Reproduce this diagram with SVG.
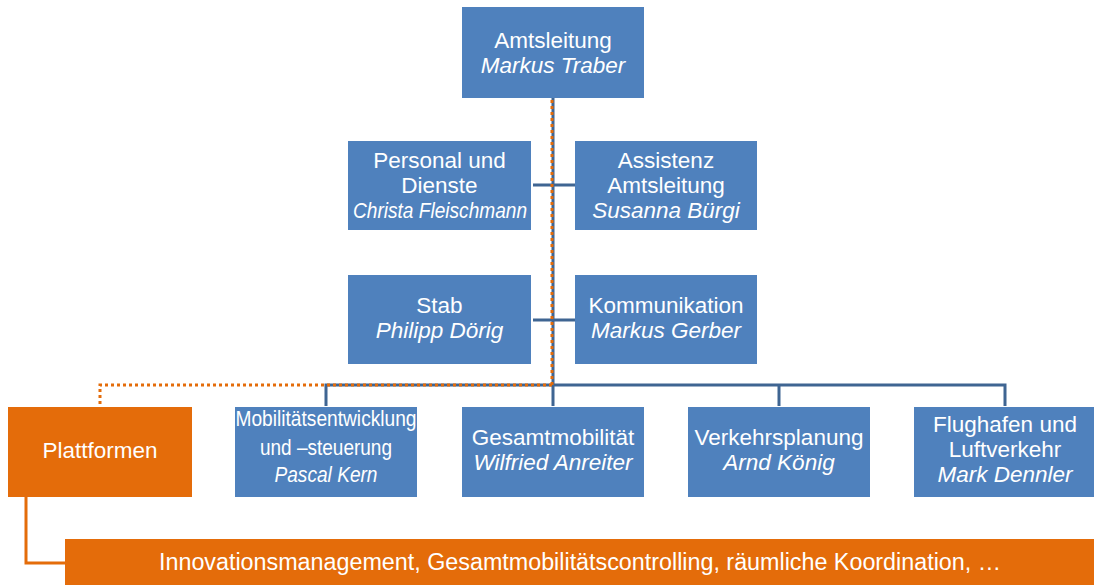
<svg xmlns="http://www.w3.org/2000/svg" width="1094" height="585" viewBox="0 0 1094 585">
<style>
.box{fill:#4F81BD;}
.org{fill:#E46C0A;}
.t{font-family:"Liberation Sans",Arial,sans-serif;font-size:22.5px;fill:#ffffff;text-anchor:middle;}
.i{font-style:italic;}
.s{font-size:22px;}
.ln{stroke:#3F6592;stroke-width:3;fill:none;}
.dot{stroke:#E46C0A;stroke-width:3;fill:none;stroke-dasharray:3 3;}
.ol{stroke:#E46C0A;stroke-width:3;fill:none;}
</style>
<rect width="1094" height="585" fill="#ffffff"/>
<g id="connectors">
<line class="ln" x1="553" y1="98" x2="553" y2="406"/>
<line class="ln" x1="533" y1="185" x2="575" y2="185"/>
<line class="ln" x1="533" y1="320" x2="575" y2="320"/>
<polyline class="ln" points="326,406 326,385 1005,385 1005,406"/>
<line class="ln" x1="779" y1="385" x2="779" y2="406"/>
<line class="dot" x1="552" y1="100" x2="552" y2="385"/>
<polyline class="dot" points="552,385 100,385 100,405"/>
<polyline class="ol" points="26,497 26,563 66,563"/>
</g>
<g id="amtsleitung">
<rect class="box" x="462" y="7" width="182" height="91"/>
<text class="t" x="553" y="48">Amtsleitung</text>
<text class="t i" x="553" y="72.5">Markus Traber</text>
</g>
<g id="personal">
<rect class="box" x="348" y="141" width="183" height="89"/>
<text class="t" x="439.5" y="168">Personal und</text>
<text class="t" x="439.5" y="193">Dienste</text>
<text class="t i s" x="440" y="218" textLength="174" lengthAdjust="spacingAndGlyphs">Christa Fleischmann</text>
</g>
<g id="assistenz">
<rect class="box" x="575" y="141" width="182" height="89"/>
<text class="t" x="666" y="168">Assistenz</text>
<text class="t" x="666" y="193">Amtsleitung</text>
<text class="t i" x="666" y="218">Susanna Bürgi</text>
</g>
<g id="stab">
<rect class="box" x="348" y="275" width="183" height="89"/>
<text class="t" x="439.5" y="313">Stab</text>
<text class="t i" x="439.5" y="338">Philipp Dörig</text>
</g>
<g id="kommunikation">
<rect class="box" x="575" y="275" width="182" height="89"/>
<text class="t" x="666" y="313">Kommunikation</text>
<text class="t i" x="666" y="338">Markus Gerber</text>
</g>
<g id="plattformen">
<rect class="org" x="8" y="407" width="184" height="90"/>
<text class="t" x="100" y="458">Plattformen</text>
</g>
<g id="mobilitaetsentwicklung">
<rect class="box" x="235" y="407" width="182" height="90"/>
<text class="t s" x="326" y="426" textLength="181" lengthAdjust="spacingAndGlyphs">Mobilitätsentwicklung</text>
<text class="t s" x="326" y="455" textLength="132" lengthAdjust="spacingAndGlyphs">und –steuerung</text>
<text class="t i s" x="326" y="482" textLength="103" lengthAdjust="spacingAndGlyphs">Pascal Kern</text>
</g>
<g id="gesamtmobilitaet">
<rect class="box" x="462" y="407" width="182" height="90"/>
<text class="t" x="553" y="445">Gesamtmobilität</text>
<text class="t i" x="553" y="470">Wilfried Anreiter</text>
</g>
<g id="verkehrsplanung">
<rect class="box" x="688" y="407" width="182" height="90"/>
<text class="t" x="779" y="445">Verkehrsplanung</text>
<text class="t i" x="779" y="470">Arnd König</text>
</g>
<g id="flughafen">
<rect class="box" x="914" y="407" width="180" height="90"/>
<text class="t" x="1005" y="432">Flughafen und</text>
<text class="t" x="1005" y="457">Luftverkehr</text>
<text class="t i" x="1005" y="482">Mark Dennler</text>
</g>
<g id="innovationsmanagement">
<rect class="org" x="65" y="539" width="1029" height="46"/>
<text class="t" x="580" y="570" style="font-size:23px" textLength="842" lengthAdjust="spacingAndGlyphs">Innovationsmanagement, Gesamtmobilitätscontrolling, räumliche Koordination, …</text>
</g>
</svg>
